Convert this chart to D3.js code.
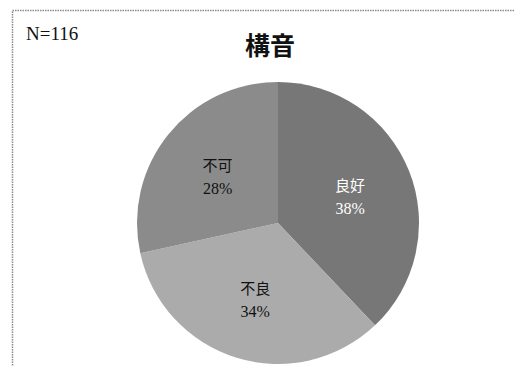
<!DOCTYPE html>
<html><head><meta charset="utf-8">
<script src="https://cdn.jsdelivr.net/npm/d3@7"></script>
<style>body{margin:0;background:#fff}svg{display:block}</style>
</head><body>
<svg id="c" width="514" height="366"></svg>
<script>
const categories = ["良好", "不良", "不可"];
const counts = [44, 39, 33];
const percentLabels = ["38%", "34%", "28%"];
const title = "構音";
const nLabel = "N=116";
const colors = ["#777777", "#ababab", "#8b8b8b"];
const textColors = ["#ffffff", "#111111", "#111111"];

const svg = d3.select("#c");
svg.append("rect").attr("x", 12.5).attr("y", 10.5).attr("width", 520).attr("height", 380)
  .attr("fill", "none").attr("stroke", "#8a8a8a").attr("stroke-width", 1.5).attr("stroke-dasharray", "1.5,1");

svg.append("text").attr("x", 26).attr("y", 40).text(nLabel)
  .attr("font-family", "Liberation Serif, serif").attr("font-size", 19).attr("fill", "#111");
svg.append("text").attr("x", 270).attr("y", 55).attr("text-anchor", "middle").text(title)
  .attr("font-family", "Noto Sans CJK JP").attr("font-weight", "bold").attr("font-size", 25).attr("fill", "#111");

const cx = 278, cy = 223, r = 141;
const pie = d3.pie().sort(null).value(d => d)(counts);
const arc = d3.arc().innerRadius(0).outerRadius(r);
const g = svg.append("g").attr("transform", `translate(${cx},${cy})`);
g.selectAll("path").data(pie).join("path").attr("d", arc).attr("fill", (d, i) => colors[i]);

const labelArc = d3.arc().innerRadius(r * 0.55).outerRadius(r * 0.55);
const lg = g.selectAll("g.lbl").data(pie).join("g").attr("class", "lbl")
  .attr("transform", d => { const c = labelArc.centroid(d); return `translate(${c[0]},${c[1] + 3})`; });
lg.append("text").attr("text-anchor", "middle").attr("y", -6).text((d, i) => categories[i])
  .attr("font-family", "Noto Sans CJK JP").attr("font-size", 15).attr("fill", (d, i) => textColors[i]);
lg.append("text").attr("text-anchor", "middle").attr("y", 17).text((d, i) => percentLabels[i])
  .attr("font-family", "Liberation Serif, serif").attr("font-size", 16).attr("fill", (d, i) => textColors[i]);
</script>
</body></html>
